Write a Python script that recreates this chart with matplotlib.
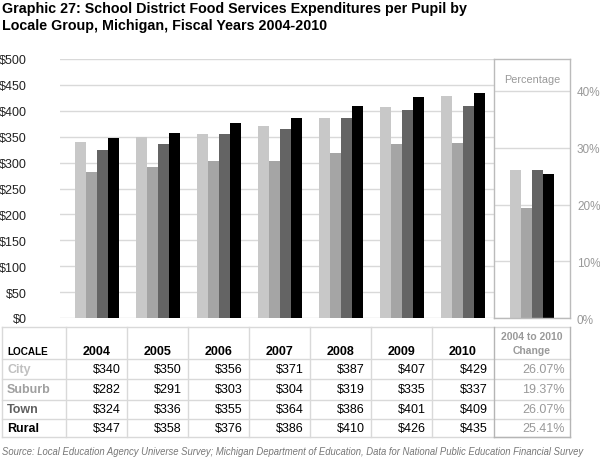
import matplotlib.pyplot as plt
import numpy as np

plt.rcParams['font.family'] = ['Liberation Sans', 'DejaVu Sans']

years = ['2004', '2005', '2006', '2007', '2008', '2009', '2010']
locales = ['City', 'Suburb', 'Town', 'Rural']
city = [340, 350, 356, 371, 387, 407, 429]
suburb = [282, 291, 303, 304, 319, 335, 337]
town = [324, 336, 355, 364, 386, 401, 409]
rural = [347, 358, 376, 386, 410, 426, 435]
change = [26.07, 19.37, 26.07, 25.41]

series = [city, suburb, town, rural]
bar_colors = ['#c8c8c8', '#a5a5a5', '#646464', '#000000']
text_colors = ['#c0c0c0', '#a0a0a0', '#606060', '#000000']

W, H = 600, 460
fig = plt.figure(figsize=(6, 4.6), dpi=100)

def rect(x0, y0, x1, y1):
    return [x0 / W, 1 - y1 / H, (x1 - x0) / W, (y1 - y0) / H]

# main bar chart
ax = fig.add_axes(rect(60, 60, 494, 319))
x = np.arange(len(years))
w = 11 / 61
for j, vals in enumerate(series):
    ax.bar(x + (j - 1.5) * w, vals, w, color=bar_colors[j], zorder=2)
ax.set_xlim((60 - 97) / 61, (494 - 97) / 61)
ax.set_ylim(0, 500)
ax.set_yticks(np.arange(0, 501, 50))
ax.set_yticklabels(['$' + str(v) for v in range(0, 501, 50)], fontsize=9, color='#222222')
ax.tick_params(axis='y', length=0, pad=24)
ax.set_xticks([])
ax.grid(axis='y', color='#d9d9d9', linewidth=1, zorder=0)
for s in ax.spines.values():
    s.set_visible(False)

# percentage panel
ax2 = fig.add_axes(rect(494, 60, 570, 319))
for j, v in enumerate(change):
    ax2.bar((j - 1.5) * w, v, w, color=bar_colors[j], zorder=2)
ax2.set_xlim(-38 / 61, 38 / 61)
ax2.set_ylim(0, 40 * 259 / 227)
ax2.set_xticks([])
ax2.yaxis.tick_right()
ax2.set_yticks([0, 10, 20, 30, 40])
ax2.set_yticklabels(['0%', '10%', '20%', '30%', '40%'], fontsize=8.5, color='#999999')
ax2.tick_params(axis='y', length=0, pad=5)
ax2.grid(axis='y', color='#d9d9d9', linewidth=1, zorder=0)
for s in ax2.spines.values():
    s.set_color('#bbbbbb')
    s.set_linewidth(1)
ax2.text(0, 42.2, 'Percentage', ha='center', va='center', fontsize=7.8, color='#999999')

# title
fig.text(2 / W, 1 - 9 / H, 'Graphic 27: School District Food Services Expenditures per Pupil by',
         fontsize=10.3, fontweight='bold', va='center', ha='left')
fig.text(2 / W, 1 - 26 / H, 'Locale Group, Michigan, Fiscal Years 2004-2010',
         fontsize=10.3, fontweight='bold', va='center', ha='left')

# data table
tab = fig.add_axes([0, 0, 1, 1])
tab.set_xlim(0, W)
tab.set_ylim(H, 0)
tab.axis('off')
row_lines = [328, 360, 380, 401, 420, 438]
col_lines = [2] + [66 + 61 * i for i in range(7)] + [494, 570]
for y in row_lines:
    tab.plot([2, 570], [y, y], color='#d9d9d9', lw=1)
for cx in col_lines:
    c = '#b5b5b5' if cx in (494, 570) else '#d9d9d9'
    tab.plot([cx, cx], [328, 438], color=c, lw=1)
tab.plot([494, 570], [438, 438], color='#b5b5b5', lw=1)

tab.text(7, 352, 'LOCALE', fontsize=7.2, fontweight='bold', va='center', ha='left')
lefts = [66 + 61 * i for i in range(7)]
rights = lefts[1:] + [494]
for i, yr in enumerate(years):
    tab.text((lefts[i] + rights[i]) / 2, 352, yr, fontsize=9, fontweight='bold', va='center', ha='center')
tab.text(532, 337, '2004 to 2010', fontsize=7.5, fontweight='bold', color='#999999', va='center', ha='center')
tab.text(532, 351, 'Change', fontsize=7.5, fontweight='bold', color='#999999', va='center', ha='center')

row_y = [370, 390, 410, 429]
for r, name in enumerate(locales):
    tab.text(7, row_y[r], name, fontsize=9, fontweight='bold', color=text_colors[r], va='center', ha='left')
    for i, v in enumerate(series[r]):
        tab.text(rights[i] - 6, row_y[r], '$' + str(v), fontsize=9, va='center', ha='right')
    tab.text(565, row_y[r], '%.2f%%' % change[r], fontsize=9, color='#999999', va='center', ha='right')

tab.text(2, 452, 'Source: Local Education Agency Universe Survey; Michigan Department of Education, '
         'Data for National Public Education Financial Survey',
         fontsize=6.85, style='italic', color='#777777', va='center', ha='left')

plt.savefig('out.png', dpi=100)
